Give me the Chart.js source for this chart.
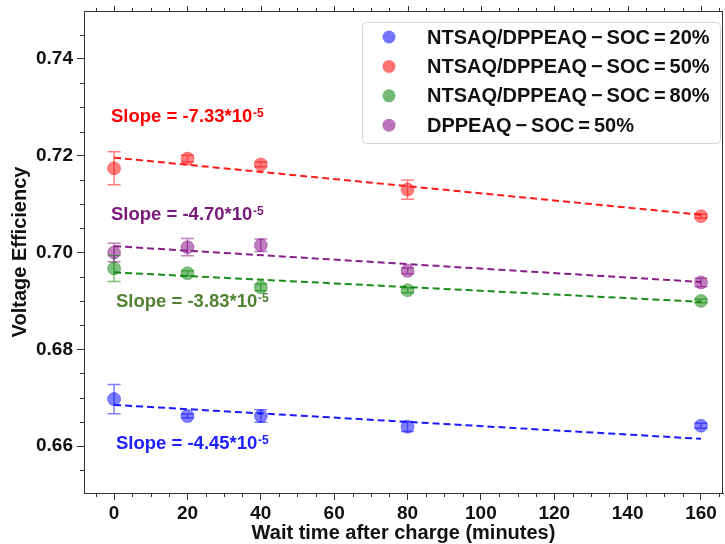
<!DOCTYPE html>
<html>
<head>
<meta charset="utf-8">
<script src="https://cdn.jsdelivr.net/npm/chart.js@4.4.1/dist/chart.umd.min.js"></script>
<style>
html,body{margin:0;padding:0;background:#fff;}
#wrap{width:725px;height:544px;position:relative;}
</style>
</head>
<body>
<div id="wrap"><canvas id="c" width="725" height="544"></canvas></div>
<script>
// ---- data ----
const waitTimes = [0, 20, 40, 80, 160];
const seriesLabels = [
  'NTSAQ/DPPEAQ \u2212 SOC = 20%',
  'NTSAQ/DPPEAQ \u2212 SOC = 50%',
  'NTSAQ/DPPEAQ \u2212 SOC = 80%',
  'DPPEAQ \u2212 SOC = 50%'
];
const soc20 = [0.6697, 0.6662, 0.6662, 0.6640, 0.6642];
const soc20Err = [0.0030, 0.0004, 0.0013, 0.0010, 0.0005];
const soc50 = [0.7174, 0.7194, 0.7182, 0.7130, 0.7075];
const soc50Err = [0.0034, 0.0007, 0.0005, 0.0020, 0.0004];
const soc80 = [0.6967, 0.6957, 0.6928, 0.6922, 0.6900];
const soc80Err = [0.0027, 0.0005, 0.0007, 0.0005, 0.0004];
const dppeaq50 = [0.7000, 0.7011, 0.7015, 0.6962, 0.6938];
const dppeaq50Err = [0.0019, 0.0018, 0.0013, 0.0006, 0.0009];
const fitX = [0, 160];
const fit20 = [0.6685, 0.6615];
const fit50 = [0.7196, 0.7078];
const fit80 = [0.6959, 0.6898];
const fitDppeaq = [0.7013, 0.6939];
const slopeTexts = ['-4.45', '-7.33', '-3.83', '-4.70'];
const xTickValues = [0, 20, 40, 60, 80, 100, 120, 140, 160];
const yTickValues = [0.66, 0.68, 0.70, 0.72, 0.74];

// ---- styling ----
const baseColors = ['0,0,255', '255,0,0', '0,128,0', '128,0,128'];
const fitColors = ['#1a1aff', '#ff1a1a', '#1a8c1a', '#861f86'];
const slopeColors = ['#2020ff', '#ff0000', '#548235', '#7a1a7a'];
const FONT = "'Liberation Sans', Arial, Helvetica, sans-serif";

const values = [soc20, soc50, soc80, dppeaq50];
const errors = [soc20Err, soc50Err, soc80Err, dppeaq50Err];
const fits = [fit20, fit50, fit80, fitDppeaq];

const datasets = [];
values.forEach((vals, i) => {
  datasets.push({
    label: seriesLabels[i],
    data: waitTimes.map((x, j) => ({x: x, y: vals[j]})),
    showLine: false,
    pointRadius: 6.5,
    pointHoverRadius: 6.5,
    pointBackgroundColor: 'rgba(' + baseColors[i] + ',0.5)',
    pointBorderColor: 'rgba(' + baseColors[i] + ',0.35)',
    pointBorderWidth: 1,
    order: 2
  });
});
fits.forEach((f, i) => {
  datasets.push({
    label: 'fit' + i,
    data: fitX.map((x, j) => ({x: x, y: f[j]})),
    showLine: true,
    pointRadius: 0,
    borderColor: fitColors[i],
    borderWidth: 2,
    borderDash: [7, 4],
    fill: false,
    order: 1
  });
});

const errorBarPlugin = {
  id: 'errorBars',
  afterDatasetsDraw(chart) {
    const ctx = chart.ctx, xs = chart.scales.x, ys = chart.scales.y;
    ctx.save();
    values.forEach((vals, i) => {
      ctx.strokeStyle = 'rgba(' + baseColors[i] + ',0.5)';
      ctx.lineWidth = 1.5;
      waitTimes.forEach((x, j) => {
        const px = xs.getPixelForValue(x);
        const top = ys.getPixelForValue(vals[j] + errors[i][j]);
        const bot = ys.getPixelForValue(vals[j] - errors[i][j]);
        ctx.beginPath();
        ctx.moveTo(px, top); ctx.lineTo(px, bot);
        ctx.moveTo(px - 6.5, top); ctx.lineTo(px + 6.5, top);
        ctx.moveTo(px - 6.5, bot); ctx.lineTo(px + 6.5, bot);
        ctx.stroke();
      });
    });
    ctx.restore();
  }
};

const framePlugin = {
  id: 'frame',
  afterDraw(chart) {
    const ctx = chart.ctx, a = chart.chartArea, xs = chart.scales.x, ys = chart.scales.y;
    ctx.save();
    ctx.strokeStyle = '#333';
    ctx.lineWidth = 1;
    ctx.beginPath();
    ctx.moveTo(a.left, a.top + 0.5); ctx.lineTo(a.right, a.top + 0.5);
    ctx.moveTo(a.right - 0.5, a.top); ctx.lineTo(a.right - 0.5, a.bottom);
    ctx.stroke();
    ctx.beginPath();
    for (let v = -5; v <= 165; v += 5) {
      const px = Math.round(xs.getPixelForValue(v)) + 0.5;
      if (px < a.left || px > a.right) continue;
      const major = v % 20 === 0;
      if (!major) { ctx.moveTo(px, a.bottom); ctx.lineTo(px, a.bottom + 4); }
      ctx.moveTo(px, a.top); ctx.lineTo(px, a.top - (major ? 5 : 3));
    }
    for (let k = 131; k <= 149; k++) {
      const v = k * 0.005;
      const py = Math.round(ys.getPixelForValue(v)) + 0.5;
      if (py < a.top || py > a.bottom) continue;
      if (k % 4 !== 0) { ctx.moveTo(a.left, py); ctx.lineTo(a.left - 4, py); }
    }
    ctx.stroke();

    // slope annotations
    const pos = [[116, 449], [111, 122], [116, 307], [111, 220]];
    slopeTexts.forEach((s, i) => {
      const main = 'Slope = ' + s + '*10';
      ctx.fillStyle = slopeColors[i];
      ctx.textBaseline = 'alphabetic';
      ctx.textAlign = 'left';
      ctx.font = 'bold 18.5px ' + FONT;
      ctx.fillText(main, pos[i][0], pos[i][1]);
      const w = ctx.measureText(main).width;
      ctx.font = 'bold 12px ' + FONT;
      ctx.fillText('-5', pos[i][0] + w + 0.5, pos[i][1] - 5);
    });

    // legend
    const lx = 362.5, ly = 22.5, lw = 358, lh = 121, r = 4;
    ctx.beginPath();
    ctx.moveTo(lx + r, ly);
    ctx.arcTo(lx + lw, ly, lx + lw, ly + lh, r);
    ctx.arcTo(lx + lw, ly + lh, lx, ly + lh, r);
    ctx.arcTo(lx, ly + lh, lx, ly, r);
    ctx.arcTo(lx, ly, lx + lw, ly, r);
    ctx.closePath();
    ctx.fillStyle = 'rgba(255,255,255,0.85)';
    ctx.fill();
    ctx.strokeStyle = '#d4d4d4';
    ctx.lineWidth = 1;
    ctx.stroke();
    if ('wordSpacing' in ctx) ctx.wordSpacing = '-1.6px';
    seriesLabels.forEach((lab, i) => {
      const y = 37 + i * 29.4;
      ctx.beginPath();
      ctx.arc(389, y, 6.5, 0, Math.PI * 2);
      ctx.fillStyle = 'rgba(' + baseColors[i] + ',0.55)';
      ctx.fill();
      ctx.fillStyle = '#111';
      ctx.font = 'bold 20px ' + FONT;
      ctx.textBaseline = 'middle';
      ctx.fillText(lab, 427, y + 1);
    });
    ctx.restore();
  }
};

new Chart(document.getElementById('c'), {
  type: 'scatter',
  data: {datasets: datasets},
  options: {
    responsive: false,
    animation: false,
    devicePixelRatio: 1,
    layout: {autoPadding: false, padding: {left: 0, top: 11, right: 2, bottom: 0}},
    plugins: {legend: {display: false}, tooltip: {enabled: false}},
    scales: {
      x: {
        type: 'linear',
        min: -8.2,
        max: 166,
        afterBuildTicks: (s) => { s.ticks = xTickValues.map(v => ({value: v})); },
        afterFit: (s) => { s.height = 51; s.paddingLeft = 0; s.paddingRight = 0; },
        grid: {drawOnChartArea: false, drawTicks: true, tickLength: 7, color: '#333'},
        border: {display: true, color: '#333', width: 1},
        ticks: {color: '#111', padding: 2, font: {family: FONT, size: 19, weight: 'bold'}, maxRotation: 0},
        title: {display: true, text: 'Wait time after charge (minutes)', color: '#111',
                padding: {top: 0, bottom: 0}, font: {family: FONT, size: 20, weight: 'bold', lineHeight: 1.1}}
      },
      y: {
        type: 'linear',
        min: 0.6503,
        max: 0.7499,
        afterBuildTicks: (s) => { s.ticks = yTickValues.map(v => ({value: v})); },
        afterFit: (s) => { s.width = 84; s.paddingTop = 0; s.paddingBottom = 0; },
        grid: {drawOnChartArea: false, drawTicks: true, tickLength: 7, color: '#333'},
        border: {display: true, color: '#333', width: 1},
        ticks: {color: '#111', padding: 4, font: {family: FONT, size: 19, weight: 'bold'},
                callback: (v) => v.toFixed(2)},
        title: {display: true, text: 'Voltage Efficiency', color: '#111',
                padding: {top: 8, bottom: 0}, font: {family: FONT, size: 20, weight: 'bold'}}
      }
    }
  },
  plugins: [errorBarPlugin, framePlugin]
});
</script>
</body>
</html>
